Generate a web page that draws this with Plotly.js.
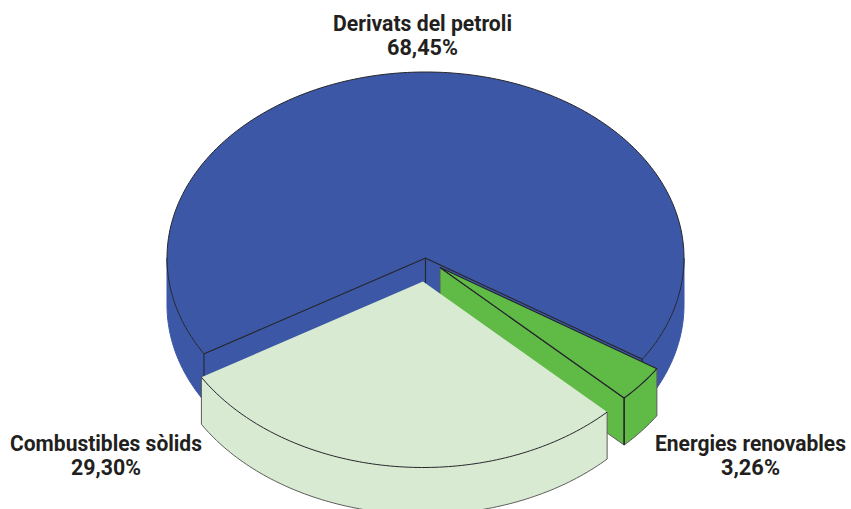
<!DOCTYPE html>
<html>
<head>
<meta charset="utf-8">
<script src="https://cdn.plot.ly/plotly-3.0.1.min.js"></script>
<style>html,body{margin:0;padding:0;background:#fff}#chart{width:851px;height:509px}</style>
</head>
<body>
<div id="chart"></div>
<script>
// Data (pie order: clockwise from the left cut edge)
const sliceNames = ['Derivats del petroli', 'Energies renovables', 'Combustibles sòlids'];
const sliceShares = [68.45, 3.26, 29.30];
const shareLabels = ['68,45%', '3,26%', '29,30%'];
const sliceColors = ['#3B57A6', '#5FBB46', '#D9EAD3'];

// Drawing of the tilted pie
const pie = {cx: 425.5, cy: 258, rx: 258.5, ry: 186, depth: 47, startDeg: 149};
const explode = [[0, 0], [14.5, 9.5], [-2.5, 23.5]];
const ink = '#26262b', thin = '#5c5c5c';

const total = sliceShares.reduce((a, b) => a + b, 0);
let cursor = pie.startDeg;
const spans = sliceShares.map(v => { const s = [cursor, cursor + v / total * 360]; cursor = s[1]; return s; });

function arc(i, a, b, dz) {
  const pts = [], n = Math.max(2, Math.ceil(Math.abs(b - a)));
  for (let k = 0; k <= n; k++) {
    const t = (a + (b - a) * k / n) * Math.PI / 180;
    pts.push([pie.cx + explode[i][0] + pie.rx * Math.cos(t), pie.cy + explode[i][1] + dz + pie.ry * Math.sin(t)]);
  }
  return pts;
}
const apex = (i, dz) => [pie.cx + explode[i][0], pie.cy + explode[i][1] + dz];
const rim = (i, a, dz) => arc(i, a, a, dz)[0];

const traces = [];
function shape(pts, fill, lineColor, lineWidth, closed) {
  const p = closed === false ? pts : pts.concat([pts[0]]);
  traces.push({
    type: 'scatter', mode: 'lines', hoverinfo: 'skip', showlegend: false,
    x: p.map(q => q[0]), y: p.map(q => q[1]),
    fill: fill ? 'toself' : 'none', fillcolor: fill || undefined,
    line: {color: lineColor || fill, width: lineWidth === undefined ? 1 : lineWidth, simplify: false}
  });
}
function outerWall(i, a, b, lineColor, w) {
  shape(arc(i, a, b, 0).concat(arc(i, b, a, pie.depth)), sliceColors[i], lineColor, w);
}
function cutWall(i, a, lineColor, w) {
  shape([apex(i, 0), rim(i, a, 0), rim(i, a, pie.depth), apex(i, pie.depth)], sliceColors[i], lineColor, w);
}

// Blue slice: back walls, cut walls, top
const [b0, b1] = spans[0];
outerWall(0, b0, 180, sliceColors[0], 1);
outerWall(0, 360, b1, sliceColors[0], 1);
cutWall(0, b0, ink, 1.1);
cutWall(0, b1, ink, 1.1);
shape([apex(0, 0)].concat(arc(0, b0, b1, 0)), sliceColors[0], ink, 1);

// Green slice: front wall, cut wall, top
const [g0, g1] = spans[1];
outerWall(1, g0, g1, thin, 1);
cutWall(1, g1, thin, 1);
shape([apex(1, 0), rim(1, g1, 0), rim(1, g1, pie.depth)], null, ink, 1.1, false);
shape([apex(1, 0)].concat(arc(1, g0, g1, 0)), sliceColors[1], ink, 1.1);
shape([rim(1, g1, 0), rim(1, g1, pie.depth)], null, ink, 1.1, false);

// Pale slice: front wall, top, with only the arcs outlined
const [l0, l1] = spans[2];
shape(arc(2, l0, l1, 0).concat(arc(2, l1, l0, pie.depth)), sliceColors[2], sliceColors[2], 0);
shape([rim(2, l1, 0), rim(2, l1, pie.depth)].concat(arc(2, l1, l0, pie.depth), [rim(2, l0, 0)]), null, thin, 1, false);
shape([apex(2, 0)].concat(arc(2, l0, l1, 0)), sliceColors[2], sliceColors[2], 0);
shape(arc(2, l0, l1, 0), null, ink, 1, false);

// Labels: name and share as two tight lines, condensed to the reference's widths
const labelAnchors = [[422.5, 23], [750.5, 443], [106, 443]];
const nameWidths = [179, 191, 192];
const shareWidths = [71, 59, 70];
const lineGap = 24;
const annotations = [], fitWidths = [];
sliceNames.forEach((name, i) => {
  [name, shareLabels[i]].forEach((text, j) => {
    const w = j === 0 ? nameWidths[i] : shareWidths[i];
    fitWidths.push(w);
    annotations.push({
      x: labelAnchors[i][0], y: labelAnchors[i][1] + j * lineGap,
      xref: 'x', yref: 'y', text, showarrow: false, xanchor: 'center', yanchor: 'middle',
      width: w + 2, align: 'center', borderpad: 0,
      font: {family: '"Roboto", "Liberation Sans", sans-serif', size: 21.5, color: '#231f20', weight: 700}
    });
  });
});

const gd = document.getElementById('chart');
Plotly.newPlot(gd, traces, {
  width: 851, height: 509,
  margin: {l: 0, r: 0, t: 0, b: 0},
  paper_bgcolor: '#ffffff', plot_bgcolor: '#ffffff',
  showlegend: false,
  xaxis: {range: [0, 851], visible: false, fixedrange: true},
  yaxis: {range: [509, 0], visible: false, fixedrange: true},
  annotations
}, {displayModeBar: false, staticPlot: true}).then(() => {
  gd.querySelectorAll('.annotation-text').forEach((el, k) => {
    el.setAttribute('textLength', fitWidths[k]);
    el.setAttribute('lengthAdjust', 'spacingAndGlyphs');
  });
});
</script>
</body>
</html>
